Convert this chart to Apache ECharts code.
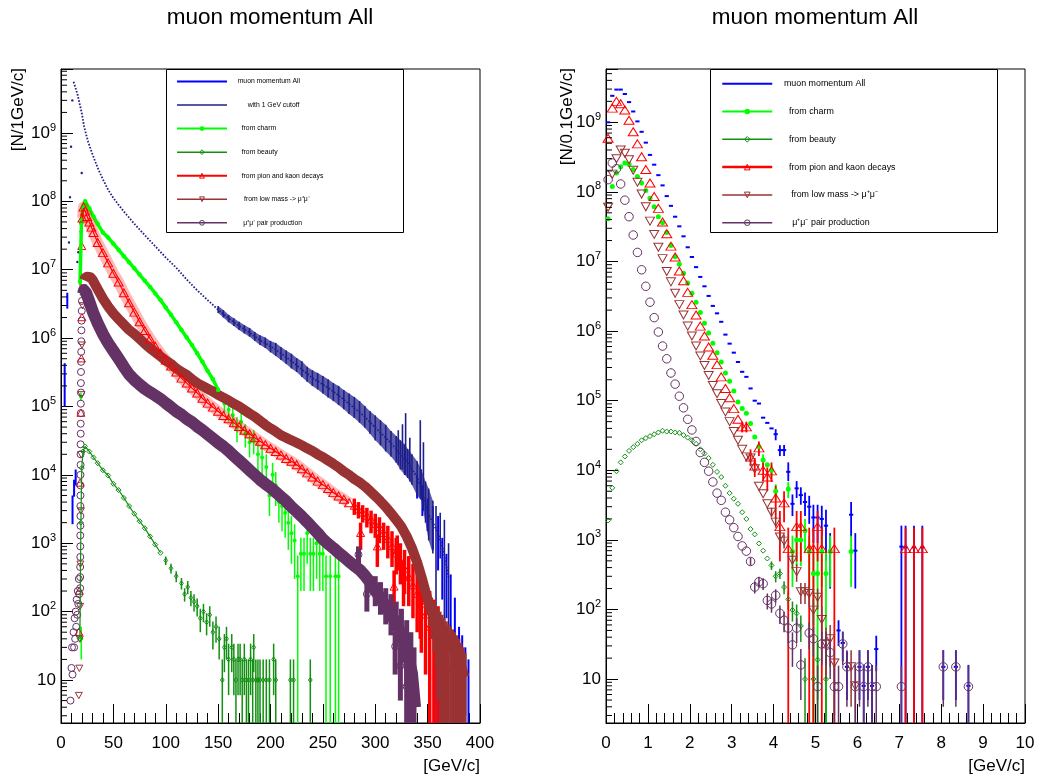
<!DOCTYPE html>
<html><head><meta charset="utf-8">
<script src="https://cdn.jsdelivr.net/npm/echarts@6/dist/echarts.min.js"></script>
<style>html,body{margin:0;padding:0;background:#fff}#c{width:1038px;height:783px}</style>
</head><body><div id="c"></div>
<script>
// ---------------- LEFT PANEL DATA (p in GeV/c, N per 1 GeV/c) ----------------
const allLowL = [[3.5,2.9e5,1.0e5,4.3e5],[6,3.5e6,2.7e6,4.6e6],[11,3.5e3,1.9e3,5.0e3],[12.5,6.5e3,4.8e3,8.5e3],[14,9.0e3,7.0e3,1.2e4]];
const allTailL = [[340,7e3,4.5e3,1.0e4],[345,4.5e3,2.5e3,7e3],[350,3e3,1.5e3,4.5e3],[355,2e3,800,3.5e3],[360,1.2e3,400,2.5e3],[364,600,150,1.2e3],[368,300,80,700],[372,150,40,350],[376,70,20,160],[380,30,8,60],[383,20,5,45],[386,12,3,30],[389,8,2,20]];
const cutL = [[12,5.6e9],[14,4.5e9],[16,3.55e9],[18,2.6e9],[20,1.9e9],[22,1.26e9],[24,9.5e8],[26,7.4e8],[28,6.0e8],[30,4.9e8],[35,3.1e8],[40,2.1e8],[45,1.48e8],[50,1.12e8],[55,8.9e7],[60,7.1e7],[70,4.7e7],[80,3.2e7],[90,2.2e7],[100,1.51e7],[110,1.07e7],[120,7.2e6],[130,5.0e6],[140,3.6e6],[150,2.6e6],[160,1.95e6],[170,1.51e6],[180,1.2e6],[190,9.3e5],[200,7.6e5],[210,6.0e5],[220,4.6e5],[230,3.5e5],[240,2.6e5],[250,2.1e5],[260,1.66e5],[270,1.26e5],[280,9.5e4],[290,7.1e4],[300,4.9e4],[310,3.5e4],[320,2.4e4],[330,1.58e4],[340,9.3e3],[345,5.6e3],[350,2.8e3],[355,2.0e3],[360,1.4e3],[365,790],[370,320]];
const cutStrayL = [[7.6,2.5e7],[8.6,1.15e8],[9.6,6.3e8],[10.8,3.0e9],[15.6,1.3e7],[16.5,1.8e7],[18.2,4.8e7],[18.8,3.6e7],[19.8,2.6e8]];
const cutErrL = [[150,2.34e6,2.95e6],[155,2.0e6,2.57e6],[160,1.7e6,2.19e6],[165,1.51e6,1.95e6],[170,1.32e6,1.74e6],[175,1.17e6,1.55e6],[180,1.05e6,1.41e6],[185,9.1e5,1.23e6],[190,7.9e5,1.1e6],[195,7.2e5,1.02e6],[200,6.2e5,9.1e5],[205,5.5e5,8.5e5],[210,4.8e5,7.4e5],[215,4.2e5,6.6e5],[220,3.6e5,5.9e5],[225,3.2e5,5.1e5],[230,2.7e5,4.6e5],[235,2.3e5,3.8e5],[240,2.0e5,3.4e5],[245,1.78e5,3.1e5],[250,1.55e5,2.8e5],[255,1.35e5,2.5e5],[260,1.2e5,2.2e5],[265,1.05e5,2.0e5],[270,9.1e4,1.74e5],[275,7.8e4,1.55e5],[280,6.8e4,1.38e5],[285,5.8e4,1.2e5],[290,4.9e4,1.02e5],[295,4.0e4,8.5e4],[300,3.2e4,7.4e4],[305,2.7e4,6.3e4],[310,2.2e4,5.4e4],[315,1.86e4,4.4e4],[320,1.51e4,3.7e4],[324,1.2e4,3.2e4],[328,1.0e4,2.8e4],[331,9.0e3,2.4e4],[335,7.2e3,2.0e4],[340,5.0e3,1.58e4],[344,4.3e3,1.2e4],[348,2.0e3,8.0e3],[351,1.1e3,6.3e3],[355,710,4.2e3],[358,0,3.5e3],[362,600,2.8e3],[366,0,2.2e3],[370,63,1.0e3]];
const cutSpikeL = [[322,1.4e4,4.5e4],[326,1.2e4,5.5e4],[329,1.0e4,8.0e4],[333,8e3,3.5e4],[343,4.5e3,6.3e4],[346,3e3,3.0e4]];
const charmL = [[18.2,6.6e6],[19.5,4.8e7],[21,8.5e7],[23,1.0e8],[27,7.9e7],[31,6.0e7],[35,4.7e7],[40,3.5e7],[45,2.95e7],[50,2.4e7],[55,1.95e7],[60,1.58e7],[65,1.29e7],[70,1.05e7],[75,8.5e6],[80,6.9e6],[85,5.6e6],[90,4.5e6],[95,3.6e6],[100,2.8e6],[105,2.2e6],[110,1.7e6],[115,1.32e6],[120,1.02e6],[125,7.9e5],[130,6.0e5],[135,4.5e5],[140,3.3e5],[145,2.5e5],[150,1.74e5]];
const charmTailL = [[19,1.4e5,1.2e5,1.6e5],[19.3,40,20,60],[156,1.1e5,8e4,1.4e5],[160,9e4,6e4,1.2e5],[164,7.5e4,5e4,1.0e5],[168,5e4,3e4,7e4],[172,6e4,4e4,8e4],[176,4e4,2.5e4,5.5e4],[180,3e4,1.8e4,4.2e4],[184,3.2e4,2e4,4.5e4],[188,2e4,1.1e4,3e4],[192,1.8e4,1e4,2.7e4],[196,1.3e4,7e3,2e4],[199,5e3,2.5e3,8e3],[202,1e4,5e3,1.5e4],[205,7e3,3.5e3,1.1e4],[208,4e3,2e3,6e3],[211,3.5e3,1.5e3,5.5e3],[214,2.8e3,1.2e3,4.5e3],[217,2e3,800,3.3e3],[220,1.4e3,500,2.5e3],[223,1.1e3,300,1.9e3],[226,330,0,660],[229,700,200,1.2e3],[232,700,200,1.2e3],[235,1.4e3,500,2.3e3],[238,700,200,1.2e3],[241,700,200,1.2e3],[244,1.0e3,300,1.7e3],[247,700,200,1.2e3],[250,700,200,1.2e3],[253,330,0,660],[257,330,0,660],[262,330,0,660],[265,330,0,660]];
const beautyL = [[18,40],[19,2.0e3],[19.8,1.26e4],[21,2.2e4],[23,2.6e4],[27,2.2e4],[31,1.8e4],[35,1.48e4],[40,1.17e4],[45,9.8e3],[50,7.4e3],[55,6.0e3],[60,4.6e3],[65,3.5e3],[70,2.7e3],[75,2.1e3],[80,1.66e3],[85,1.26e3],[90,955],[95,725]];
const beautyTailL = [[100,560,480,640],[105,430,360,500],[110,330,270,390],[115,260,210,310],[118,180,140,220],[121,230,180,280],[124,160,120,200],[127,140,100,180],[130,120,85,155],[133,80,50,110],[136,100,70,130],[139,70,45,95],[142,90,60,120],[145,50,28,72],[148,60,35,85],[151,40,20,60],[154,10,0,20],[156,30,13,47],[158,40,20,60],[160,20,6,34],[163,30,13,47],[165,20,6,34],[167,10,0,20],[169,20,6,34],[171,20,6,34],[173,10,0,20],[175,20,6,34],[177,10,0,20],[179,10,0,20],[181,20,6,34],[183,10,0,20],[184,30,13,47],[186,10,0,20],[188,10,0,20],[190,10,0,20],[193,10,0,20],[196,10,0,20],[199,10,0,20],[203,20,6,34],[205,10,0,20],[219,10,0,20],[222,10,0,20],[238,10,0,20]];
const pionL = [[20.5,5.7e7],[21.5,8.3e7],[23,7.2e7],[25,6.0e7],[27,5.0e7],[29,4.2e7],[31,3.5e7],[35,2.5e7],[40,1.78e7],[45,1.26e7],[50,8.9e6],[55,6.6e6],[60,4.6e6],[65,3.3e6],[70,2.4e6],[75,1.74e6],[80,1.29e6],[85,9.8e5],[90,7.6e5],[95,6.0e5],[100,4.8e5],[105,3.9e5],[110,3.2e5],[115,2.6e5],[120,2.2e5],[125,1.86e5],[130,1.58e5],[135,1.32e5],[140,1.12e5],[145,9.8e4],[150,8.5e4],[155,7.4e4],[160,6.6e4],[165,5.8e4],[170,5.1e4],[175,4.5e4],[180,4.0e4],[185,3.5e4],[190,3.1e4],[195,2.75e4],[200,2.45e4],[205,2.2e4],[210,1.95e4],[215,1.74e4],[220,1.58e4],[225,1.41e4],[230,1.23e4],[235,1.07e4],[240,9.3e3],[245,8.1e3],[250,7.2e3],[255,6.3e3],[260,5.5e3],[265,4.9e3],[270,4.4e3],[275,3.9e3]];
const pionEdgeL = [[17,50],[17.5,200],[18.2,7.6e3],[19,8e4],[19.5,5e5],[19.8,2.2e7],[20,2e6]];
const pionTailL = [[280,3.5e3,2.6e3,4.5e3],[284,3.1e3,2.3e3,4.0e3],[286,1.4e3,800,2.0e3],[288,2.8e3,2.0e3,3.6e3],[292,2.5e3,1.7e3,3.3e3],[296,2.2e3,1.4e3,3.0e3],[300,1.9e3,1.2e3,2.7e3],[302,890,450,1.35e3],[304,1.7e3,1.0e3,2.4e3],[308,1.4e3,800,2.0e3],[312,1.15e3,600,1.8e3],[316,900,450,1.5e3],[318,230,60,400],[320,700,350,1.2e3],[321,800,400,1.3e3],[324,550,250,1.0e3],[327,320,120,550],[328,420,180,800],[332,320,120,650],[336,240,80,500],[340,180,50,400],[343,165,40,350],[344,130,25,300],[348,90,12,250],[352,60,0,200],[356,45,0,150],[360,32,0,120],[364,22,0,80],[368,15,0,60]];
const lowL = [[22,7.0e6],[23,7.6e6],[25,7.9e6],[28,7.8e6],[30,7.2e6],[35,5.2e6],[40,3.8e6],[45,2.9e6],[50,2.3e6],[55,1.9e6],[60,1.58e6],[65,1.32e6],[70,1.15e6],[75,9.8e5],[80,8.3e5],[85,7.1e5],[90,6.2e5],[95,5.4e5],[100,4.7e5],[105,4.2e5],[110,3.6e5],[115,3.2e5],[120,2.9e5],[125,2.5e5],[130,2.2e5],[135,2.0e5],[140,1.82e5],[145,1.66e5],[150,1.48e5],[155,1.35e5],[160,1.23e5],[165,1.1e5],[170,1.0e5],[175,8.9e4],[180,7.9e4],[185,7.1e4],[190,6.2e4],[195,5.4e4],[200,4.8e4],[205,4.3e4],[210,3.8e4],[215,3.5e4],[220,3.2e4],[225,2.95e4],[230,2.7e4],[235,2.45e4],[240,2.24e4],[245,2.0e4],[250,1.82e4],[255,1.62e4],[260,1.45e4],[265,1.29e4],[270,1.12e4],[275,1.0e4],[280,8.7e3],[285,7.8e3],[290,6.8e3],[295,5.8e3],[300,4.9e3],[305,4.1e3],[310,3.4e3],[315,2.75e3],[320,2.2e3],[325,1.74e3],[330,1.26e3],[335,850],[340,525],[345,290],[350,150],[355,91],[360,63],[365,48],[370,37],[375,29],[380,21],[385,11]];
const lowEdgeL = [[17,6],[17.5,15],[18,40],[18.2,120],[18.5,500],[19,3e3],[19.3,2e4],[19.6,1.5e5],[20,8e5],[20.5,3e6],[21,5.5e6]];
const lowTailL = [[340,525,380,700],[343,400,260,560],[345,290,200,420],[348,200,120,300],[350,150,90,230],[352,120,60,190],[354,100,40,160],[356,85,25,140],[358,70,15,120],[360,62,5,110],[362,55,0,100],[364,50,0,90],[366,45,0,80],[368,41,0,72],[370,37,0,65],[372,33,0,60],[374,30,0,55],[376,27,0,50],[378,24,0,45],[380,21,0,40],[382,18,0,35],[384,14,0,30],[386,11,0,25]];
const pairL = [[21,4.4e6],[22,5.0e6],[24,4.6e6],[26,3.8e6],[28,3.1e6],[31,2.3e6],[35,1.66e6],[40,1.15e6],[45,8.5e5],[50,6.5e5],[55,5.0e5],[60,3.8e5],[65,2.95e5],[70,2.45e5],[75,2.1e5],[80,1.82e5],[85,1.62e5],[90,1.45e5],[95,1.29e5],[100,1.12e5],[105,9.8e4],[110,8.5e4],[115,7.6e4],[120,6.6e4],[125,5.9e4],[130,5.1e4],[135,4.5e4],[140,3.9e4],[145,3.4e4],[150,2.95e4],[155,2.6e4],[160,2.24e4],[165,1.9e4],[170,1.62e4],[175,1.38e4],[180,1.17e4],[185,1.0e4],[190,8.5e3],[195,7.4e3],[200,6.5e3],[205,5.6e3],[210,4.8e3],[215,4.1e3],[220,3.4e3],[225,2.9e3],[230,2.45e3],[235,2.05e3],[240,1.7e3],[245,1.41e3],[250,1.15e3],[255,980],[260,850],[265,725],[270,630],[275,540],[280,470],[285,410],[290,340],[295,270],[300,205],[305,158],[310,120],[315,91],[320,68],[325,46],[330,28],[335,12.6],[338,4]];
const pairEdgeL = [[9,5],[10,15],[10.5,30],[11,12],[12,50],[12.5,30],[13,80],[13.5,40],[14,100],[14.5,60],[15,150],[15.5,90],[16,200],[16.5,130],[17,300],[17.3,180],[18.3,220],[18.3,320],[18.3,450],[18.4,630],[18.4,900],[18.4,1300],[18.5,1800],[18.5,2500],[18.5,3500],[18.6,5000],[18.6,7000],[18.6,1e4],[18.7,1.4e4],[18.7,2e4],[18.7,2.8e4],[18.8,4e4],[18.8,5.6e4],[18.9,8e4],[18.9,1.1e5],[19,1.6e5],[19,2.2e5],[19.1,3.2e5],[19.2,4.5e5],[19.3,6.3e5],[19.4,9e5],[19.5,1.3e6],[19.6,1.8e6],[19.8,2.5e6],[20,3.5e6]];
const pairTailL = [[284,680,450,900],[292,180,100,260],[300,205,120,330],[305,158,90,270],[310,120,65,220],[315,91,45,180],[319,31,12,50],[320,68,30,140],[324,16,5,30],[325,46,18,110],[330,8,0,20],[330,28,8,75],[334,15,0,50],[337,5,0,30]];

// ---------------- RIGHT PANEL DATA (p in GeV/c, N per 0.1 GeV/c) ----------------
const allR = [[0.05,1.0e9],[0.15,2.4e9],[0.25,2.95e9],[0.35,2.95e9],[0.45,2.55e9],[0.55,1.95e9],[0.65,1.43e9],[0.75,1.03e9],[0.85,7.3e8],[0.95,5.1e8],[1.05,3.4e8],[1.15,2.46e8],[1.25,1.74e8],[1.35,1.24e8],[1.45,8.7e7],[1.55,6.3e7],[1.65,4.4e7],[1.75,3.2e7],[1.85,2.3e7],[1.95,1.6e7],[2.05,1.16e7],[2.15,8.3e6],[2.25,6.0e6],[2.35,4.4e6],[2.45,3.2e6],[2.55,2.3e6],[2.65,1.8e6],[2.75,1.36e6],[2.85,8.9e5],[2.95,6.6e5],[3.05,4.9e5],[3.15,3.6e5],[3.25,2.6e5],[3.35,2.2e5],[3.45,1.5e5],[3.55,1.0e5],[3.65,9.1e4],[3.75,5.7e4],[3.85,4.8e4],[3.95,4.0e4],[4.05,3.3e4],[4.15,1.95e4],[4.25,1.95e4],[4.35,9.5e3],[4.45,3.3e3],[4.55,5.5e3],[4.65,4.4e3],[4.75,3.5e3],[4.85,3.0e3],[4.95,2.1e3],[5.05,2.1e3],[5.15,2.0e3],[5.25,1.6e3],[5.35,700],[5.55,50],[5.65,33],[5.75,15],[5.85,2.3e3],[5.95,700],[6.05,15],[6.15,8],[6.25,15],[6.35,8],[6.45,27],[7.05,800],[7.15,780],[7.35,780],[7.55,780],[8.05,15],[8.35,15],[8.65,8]];
const allErrR = [[4.05,2.7e4,3.9e4],[4.15,1.6e4,2.3e4],[4.25,1.6e4,2.3e4],[4.35,7e3,1.3e4],[4.45,2.2e3,4.5e3],[4.55,4.0e3,7.0e3],[4.65,3.2e3,5.7e3],[4.75,2.2e3,4.8e3],[4.85,1.7e3,4.3e3],[4.95,900,3.2e3],[5.05,900,3.2e3],[5.15,800,3.1e3],[5.25,500,2.7e3],[5.35,200,1.25e3],[5.55,30,70],[5.65,18,48],[5.75,5,25],[5.85,1.1e3,3.5e3],[5.95,200,1.25e3],[6.05,5,26],[6.15,0,16],[6.25,5,26],[6.35,0,16],[6.45,13,42],[7.05,0,1.6e3],[7.15,0,1.6e3],[7.35,0,1.6e3],[7.55,0,1.6e3],[8.05,5,26],[8.35,5,26],[8.65,0,16]];
const charmR = [[0.05,4.1e7],[0.15,1.2e8],[0.25,1.87e8],[0.35,2.3e8],[0.45,2.6e8],[0.55,2.5e8],[0.65,2.1e8],[0.75,1.67e8],[0.85,1.34e8],[0.95,1.05e8],[1.05,8.1e7],[1.15,6.1e7],[1.25,4.4e7],[1.35,3.6e7],[1.45,2.6e7],[1.55,1.7e7],[1.65,1.17e7],[1.75,9.1e6],[1.85,6.8e6],[1.95,4.9e6],[2.05,3.5e6],[2.15,2.6e6],[2.25,1.85e6],[2.35,1.3e6],[2.45,9.4e5],[2.55,6.7e5],[2.65,4.9e5],[2.75,3.6e5],[2.85,2.5e5],[2.95,1.9e5],[3.05,1.38e5],[3.15,9.6e4],[3.25,7.7e4],[3.35,6.6e4],[3.45,4.7e4],[3.55,3.0e4],[3.65,2.2e4],[3.75,1.4e4],[3.85,1.2e4],[3.95,1.0e4],[4.05,5.0e3],[4.35,5.4e3],[4.45,680],[4.55,1.0e3],[4.65,1.0e3],[4.75,1.35e3],[4.85,680],[4.95,330],[5.05,330],[5.15,680],[5.25,330],[5.35,680],[5.85,680]];
const charmErrR = [[3.75,1.1e4,1.7e4],[3.95,8e3,1.2e4],[4.05,3.7e3,6.3e3],[4.35,4.0e3,6.8e3],[4.45,210,1.15e3],[4.55,420,1.6e3],[4.65,420,1.6e3],[4.75,680,2.0e3],[4.85,210,1.15e3],[4.95,0,660],[5.05,0,660],[5.15,210,1.15e3],[5.25,0,660],[5.35,210,1.15e3],[5.85,210,1.15e3]];
const beautyR = [[0.05,1.9e3],[0.15,5.6e3],[0.25,9.7e3],[0.35,1.3e4],[0.45,1.58e4],[0.55,1.9e4],[0.65,2.15e4],[0.75,2.4e4],[0.85,2.7e4],[0.95,2.9e4],[1.05,3.1e4],[1.15,3.3e4],[1.25,3.5e4],[1.35,3.7e4],[1.45,3.6e4],[1.55,3.6e4],[1.65,3.5e4],[1.75,3.45e4],[1.85,3.2e4],[1.95,2.95e4],[2.05,2.7e4],[2.15,2.4e4],[2.25,2.0e4],[2.35,1.74e4],[2.45,1.5e4],[2.55,1.2e4],[2.65,9.5e3],[2.75,8.0e3],[2.85,6.0e3],[2.95,4.7e3],[3.05,3.9e3],[3.15,3.3e3],[3.25,2.5e3],[3.35,2.0e3],[3.45,1.43e3],[3.55,1.2e3],[3.65,890],[3.75,700],[3.85,540],[3.95,430],[4.05,300],[4.15,330],[4.25,210],[4.35,140],[4.45,98],[4.55,88],[4.65,58],[4.75,10],[4.95,10],[5.05,19],[5.25,10]];
const beautyErrR = [[3.95,370,490],[4.05,245,355],[4.15,275,385],[4.25,165,255],[4.35,100,180],[4.45,67,130],[4.55,58,118],[4.65,34,82],[4.75,0,20],[4.95,0,20],[5.05,5,33],[5.25,0,20]];
const pionR = [[0.05,5.9e8],[0.15,1.6e9],[0.25,2.0e9],[0.35,1.85e9],[0.45,1.5e9],[0.55,1.07e9],[0.65,7.3e8],[0.75,4.9e8],[0.85,3.2e8],[0.95,2.1e8],[1.05,1.34e8],[1.15,8.6e7],[1.25,5.8e7],[1.35,3.7e7],[1.45,2.5e7],[1.55,1.66e7],[1.65,1.16e7],[1.75,7.3e6],[1.85,5.3e6],[1.95,3.6e6],[2.05,2.4e6],[2.15,1.7e6],[2.25,1.18e6],[2.35,8.5e5],[2.45,5.9e5],[2.55,4.5e5],[2.65,3.3e5],[2.75,2.2e5],[2.85,1.5e5],[2.95,1.1e5],[3.05,7.7e4],[3.15,5.4e4],[3.25,4.2e4],[3.35,4.2e4],[3.45,1.55e4],[3.55,1.15e4],[3.65,2.1e4],[3.75,1.0e4],[3.85,8.0e3],[3.95,9.8e3],[4.05,4.0e3],[4.15,1.55e3],[4.25,3.4e3],[4.35,750],[4.55,1.55e3],[4.65,1.55e3],[4.85,750],[4.95,750],[5.05,1.55e3],[5.15,750],[5.45,750],[7.15,750],[7.35,750],[7.55,750]];
const pionErrR = [[3.25,3.5e4,5e4],[3.35,3.5e4,5e4],[3.45,1.15e4,2.0e4],[3.55,8e3,1.5e4],[3.65,1.6e4,2.6e4],[3.75,7e3,1.3e4],[3.85,5e3,1.1e4],[3.95,6.8e3,1.3e4],[4.05,2.0e3,6.0e3],[4.15,490,2.6e3],[4.25,1.8e3,5.0e3],[4.35,0,1.5e3],[4.55,490,2.6e3],[4.65,490,2.6e3],[4.85,0,1.5e3],[4.95,0,1.5e3],[5.05,490,2.6e3],[5.15,0,1.5e3],[5.45,0,1.5e3],[7.15,0,1.5e3],[7.35,0,1.5e3],[7.55,0,1.5e3]];
const lowR = [[0.05,6.0e7],[0.15,1.8e8],[0.25,3.0e8],[0.35,4.0e8],[0.45,3.6e8],[0.55,2.9e8],[0.65,2.05e8],[0.75,1.38e8],[0.85,9.3e7],[0.95,6.1e7],[1.05,3.8e7],[1.15,2.45e7],[1.25,1.6e7],[1.35,1.1e7],[1.45,7.2e6],[1.55,5.1e6],[1.65,3.5e6],[1.75,2.4e6],[1.85,1.7e6],[1.95,1.18e6],[2.05,8.5e5],[2.15,6.1e5],[2.25,4.4e5],[2.35,3.2e5],[2.45,2.3e5],[2.55,1.65e5],[2.65,1.26e5],[2.75,9.1e4],[2.85,6.9e4],[2.95,5.0e4],[3.05,3.6e4],[3.15,2.7e4],[3.25,2.0e4],[3.35,1.56e4],[3.45,1.5e4],[3.55,1.05e4],[3.65,5.9e3],[3.75,4.6e3],[3.85,3.3e3],[3.95,2.5e3],[4.05,1.8e3],[4.15,1.1e3],[4.25,960],[4.45,510],[4.55,350],[4.65,180],[4.75,180],[4.85,170],[4.95,98],[5.05,150],[5.15,72],[5.25,32],[5.35,38],[5.45,17],[5.85,15],[5.95,8]];
const lowErrR = [[3.95,2.1e3,2.9e3],[4.05,1.5e3,2.1e3],[4.15,850,1.35e3],[4.25,750,1.2e3],[4.45,380,640],[4.55,250,450],[4.65,120,240],[4.75,120,240],[4.85,115,225],[4.95,60,140],[5.05,100,200],[5.15,35,110],[5.25,10,55],[5.35,15,60],[5.45,3,30],[5.85,4,26],[5.95,0,16]];
const pairR = [[0.05,1.5e8],[0.15,2.6e8],[0.25,2.15e8],[0.35,1.3e8],[0.45,7.6e7],[0.55,4.4e7],[0.65,2.4e7],[0.75,1.35e7],[0.85,7.6e6],[0.95,4.4e6],[1.05,2.6e6],[1.15,1.56e6],[1.25,9.7e5],[1.35,6.1e5],[1.45,4.0e5],[1.55,2.5e5],[1.65,1.73e5],[1.75,1.16e5],[1.85,7.9e4],[1.95,5.4e4],[2.05,3.8e4],[2.15,2.6e4],[2.25,1.8e4],[2.35,1.3e4],[2.45,9.7e3],[2.55,6.8e3],[2.65,4.7e3],[2.75,3.7e3],[2.85,2.5e3],[2.95,1.94e3],[3.05,1.5e3],[3.15,1.12e3],[3.25,820],[3.35,690],[3.45,490],[3.55,210],[3.65,250],[3.75,235],[3.85,135],[3.95,120],[4.05,160],[4.15,88],[4.25,70],[4.35,54],[4.45,31],[4.55,54],[4.65,16],[4.85,46],[4.95,38],[5.05,7.8],[5.15,32],[5.25,32],[5.35,24],[5.45,7.8],[5.55,7.8],[5.65,32],[5.75,15],[5.95,7.8],[6.05,15],[6.15,7.8],[6.25,15],[6.35,7.8],[6.45,7.8],[7.05,7.8],[8.05,15],[8.35,15],[8.65,7.8]];
const pairErrR = [[3.45,430,550],[3.55,170,250],[3.65,205,295],[3.75,190,280],[3.85,100,170],[3.95,90,150],[4.05,125,195],[4.15,62,114],[4.25,47,93],[4.35,33,75],[4.45,15,47],[4.55,33,75],[4.65,5,27],[4.85,27,65],[4.95,21,55],[5.05,0,15.6],[5.15,16,48],[5.25,16,48],[5.35,10,38],[5.45,0,15.6],[5.55,0,15.6],[5.65,16,48],[5.75,4,26],[5.95,0,15.6],[6.05,4,26],[6.15,0,15.6],[6.25,4,26],[6.35,0,15.6],[6.45,0,15.6],[7.05,0,15.6],[8.05,4,26],[8.35,4,26],[8.65,0,15.6]];

// ---------------- AXES / TEXT ----------------
const xRangeL = [0, 400], xStepL = 50;
const xRangeR = [0, 10], xStepR = 1;
const yRangeL = [2.35, 8.63e9];
const yRangeR = [2.34, 5.83e9];
const minorMultipliers = [2, 3, 4, 5, 6, 7, 8, 9];
const decades = [0, 1, 2, 3, 4, 5, 6, 7, 8, 9];
const titleText = 'muon momentum All';
const yTitleL = '[N/1GeV/c]', yTitleR = '[N/0.1GeV/c]', xTitle = '[GeV/c]';
const NAMES = {all: 'muon momentum All', cut: 'with 1 GeV cutoff', charm: 'from charm', beauty: 'from beauty', pion: 'from pion and kaon decays', low: 'from low mass -> μ⁺μ⁻', pair: 'μ⁺μ⁻ pair production'};

const F = '"Liberation Sans", Arial, Helvetica, sans-serif';
const COL = {all: '#0000ff', cut: '#1f1f8c', charm: '#00ff00', beauty: '#119011', pion: '#ff0000', low: '#993333', pair: '#653265'};

function mk(kind, x, y, s, color, lw) {
  const h = s / 2;
  const open = {fill: 'none', stroke: color, lineWidth: lw};
  if (kind === 'dot') return {type: 'circle', shape: {cx: x, cy: y, r: h}, style: {fill: color, stroke: 'none'}};
  if (kind === 'ring') return {type: 'circle', shape: {cx: x, cy: y, r: h}, style: open};
  if (kind === 'up') return {type: 'polygon', shape: {points: [[x, y - h], [x - h, y + h * 0.8], [x + h, y + h * 0.8]]}, style: open};
  if (kind === 'down') return {type: 'polygon', shape: {points: [[x, y + h], [x - h, y - h * 0.8], [x + h, y - h * 0.8]]}, style: open};
  return {type: 'polygon', shape: {points: [[x, y - h], [x + h * 0.75, y], [x, y + h], [x - h * 0.75, y]]}, style: open};
}
function R(o) {
  return function (params, api) {
    const x = api.value(0);
    const kids = [];
    if (o.lo != null) {
      const lo = Math.min(Math.max(api.value(o.lo), o.yr[0]), o.yr[1]);
      const hi = Math.min(Math.max(api.value(o.hi), o.yr[0]), o.yr[1]);
      const a = api.coord([x, lo]), b = api.coord([x, hi]);
      kids.push({type: 'line', shape: {x1: a[0], y1: a[1], x2: b[0], y2: b[1]}, style: {stroke: o.color, lineWidth: o.bw || 1.2}});
    }
    if (o.half) {
      const v = api.value(1);
      const a = api.coord([x - o.half, v]), b = api.coord([x + o.half, v]);
      kids.push({type: 'line', shape: {x1: a[0], y1: a[1], x2: b[0], y2: b[1]}, style: {stroke: o.color, lineWidth: o.hw || 1.5}});
    }
    if (o.marker) {
      const p = api.coord([x, api.value(1)]);
      kids.push(mk(o.marker, p[0], p[1], o.size, o.color, o.lw || 1));
    }
    return {type: 'group', children: kids};
  };
}
// filled band between consecutive [x, lo, hi] rows (spread of the noisy bins)
function bandR(arr, color, op, yrng, maxX) {
  return function (params, api) {
    const i = params.dataIndex;
    if (i >= arr.length - 1) return null;
    const a = arr[i], b = arr[i + 1];
    if (b[0] > maxX || a[1] <= 0 || b[1] <= 0) return null;
    const cl = v => Math.min(Math.max(v, yrng[0]), yrng[1]);
    const pts = [api.coord([a[0], cl(a[1])]), api.coord([a[0], cl(a[2])]), api.coord([b[0], cl(b[2])]), api.coord([b[0], cl(b[1])])];
    return {type: 'polygon', shape: {points: pts}, style: {fill: color, opacity: op, stroke: 'none'}};
  };
}
let cid = 0;
function cust(data, gi, o, yDim) {
  return {type: 'custom', name: '_c' + (cid++), data: data, xAxisIndex: gi, yAxisIndex: gi,
    encode: {x: 0, y: yDim == null ? 1 : yDim}, renderItem: R(o), animation: false, silent: true, clip: true, z: 2};
}
function line(key, data, gi, o) {
  return Object.assign({type: 'line', name: NAMES[key], data: data, xAxisIndex: gi, yAxisIndex: gi,
    animation: false, silent: true, clip: true, z: 2, symbol: 'none', showSymbol: true,
    lineStyle: {color: COL[key], width: 1}, itemStyle: {color: COL[key]}, emphasis: {disabled: true}}, o);
}
const openItem = (c) => ({color: 'rgba(0,0,0,0)', borderColor: c, borderWidth: 1});

const series = [];
const yl = yRangeL, yr = yRangeR;
// LEFT
series.push(line('all', allLowL.concat(allTailL).map(r => [r[0], r[1]]), 0, {lineStyle: {opacity: 0}}));
series.push(cust(allLowL.concat(allTailL), 0, {color: COL.all, lo: 2, hi: 3, yr: yl, bw: 2}));
series.push(line('cut', cutL, 0, {lineStyle: {color: COL.cut, width: 1.8, type: [1.6, 1.6]}}));
series.push(cust(cutStrayL, 0, {color: COL.cut, marker: 'dot', size: 2.4}));
series.push({type: 'custom', name: '_cutband', data: cutErrL, xAxisIndex: 0, yAxisIndex: 0, encode: {x: 0, y: 2},
  renderItem: bandR(cutErrL, COL.cut, 0.72, yl, 356), animation: false, silent: true, clip: true, z: 2});
series.push(cust(cutErrL, 0, {color: COL.cut, lo: 1, hi: 2, yr: yl, bw: 1.6}, 2));
series.push(cust(cutSpikeL, 0, {color: COL.cut, lo: 1, hi: 2, yr: yl, bw: 1.6}, 2));
series.push(line('charm', charmL, 0, {symbol: 'circle', symbolSize: 4.5, lineStyle: {color: COL.charm, width: 3.5}}));
series.push(cust(charmTailL, 0, {color: COL.charm, lo: 2, hi: 3, yr: yl, bw: 1.5, marker: 'dot', size: 4}));
series.push(line('beauty', beautyL, 0, {symbol: 'diamond', symbolSize: 5, lineStyle: {color: COL.beauty, width: 1.2}, itemStyle: openItem(COL.beauty)}));
series.push(cust(beautyTailL, 0, {color: COL.beauty, lo: 2, hi: 3, yr: yl, bw: 1.5, marker: 'diamond', size: 5}));
series.push({type: 'line', name: '_pionband', data: pionL, xAxisIndex: 0, yAxisIndex: 0, animation: false, silent: true, z: 2,
  symbol: 'none', lineStyle: {color: 'rgba(255,0,0,0.28)', width: 11, join: 'round'}});
series.push(line('pion', pionL, 0, {symbol: 'triangle', symbolSize: [9, 8], lineStyle: {color: COL.pion, width: 1.2}, itemStyle: openItem(COL.pion)}));
series.push(cust(pionEdgeL, 0, {color: COL.pion, marker: 'up', size: 8}));
series.push(cust(pionTailL, 0, {color: COL.pion, lo: 2, hi: 3, yr: yl, bw: 3.5, marker: 'up', size: 8}));
series.push(line('low', lowL, 0, {symbol: 'triangle', symbolRotate: 180, showSymbol: false, lineStyle: {color: COL.low, width: 10, join: 'round'}, itemStyle: openItem(COL.low)}));
series.push(cust(lowEdgeL, 0, {color: COL.low, marker: 'down', size: 7}));
series.push(cust(lowTailL, 0, {color: COL.low, lo: 2, hi: 3, yr: yl, bw: 2.6}));
series.push(line('pair', pairL, 0, {symbol: 'circle', showSymbol: false, lineStyle: {color: COL.pair, width: 12, join: 'round'}, itemStyle: openItem(COL.pair)}));
series.push(cust(pairEdgeL, 0, {color: COL.pair, marker: 'ring', size: 7}));
series.push(cust(pairTailL, 0, {color: COL.pair, lo: 2, hi: 3, yr: yl, bw: 5, marker: 'ring', size: 7}));
// RIGHT
series.push(line('all', allR, 1, {lineStyle: {opacity: 0}}));
series.push(cust(allR, 1, {color: COL.all, half: 0.05, hw: 2}));
series.push(cust(allErrR, 1, {color: COL.all, lo: 1, hi: 2, yr: yr, bw: 1.8}, 2));
series.push(line('charm', charmR, 1, {symbol: 'circle', symbolSize: 5, lineStyle: {opacity: 0}}));
series.push(cust(charmErrR, 1, {color: COL.charm, lo: 1, hi: 2, yr: yr, bw: 1.8}, 2));
series.push(line('beauty', beautyR, 1, {symbol: 'diamond', symbolSize: 5, lineStyle: {opacity: 0}, itemStyle: openItem(COL.beauty)}));
series.push(cust(beautyErrR, 1, {color: COL.beauty, lo: 1, hi: 2, yr: yr, bw: 1.5}, 2));
series.push(line('pion', pionR, 1, {symbol: 'triangle', symbolSize: [10, 8], lineStyle: {opacity: 0}, itemStyle: openItem(COL.pion)}));
series.push(cust(pionErrR, 1, {color: COL.pion, lo: 1, hi: 2, yr: yr, bw: 1.8}, 2));
series.push(line('low', lowR, 1, {symbol: 'triangle', symbolRotate: 180, symbolSize: [9, 8], lineStyle: {opacity: 0}, itemStyle: openItem(COL.low)}));
series.push(cust(lowErrR, 1, {color: COL.low, lo: 1, hi: 2, yr: yr, bw: 1.5}, 2));
series.push(line('pair', pairR, 1, {symbol: 'circle', symbolSize: 8.5, lineStyle: {opacity: 0}, itemStyle: openItem(COL.pair)}));
series.push(cust(pairErrR, 1, {color: COL.pair, lo: 1, hi: 2, yr: yr, bw: 1.5}, 2));

// minor log ticks (drawn through the y scale)
function minorData(range) {
  const out = [];
  decades.forEach(k => minorMultipliers.forEach(m => { const v = m * Math.pow(10, k); if (v > range[0] && v < range[1]) out.push([0, v]); }));
  return out;
}
function minorRender(len) {
  return function (params, api) {
    const p = api.coord([api.value(0), api.value(1)]);
    return {type: 'line', shape: {x1: p[0], y1: p[1], x2: p[0] + len, y2: p[1]}, style: {stroke: '#000', lineWidth: 1}};
  };
}
[0, 1].forEach(gi => series.push({type: 'custom', name: '_minor' + gi, data: minorData(gi ? yr : yl), xAxisIndex: gi, yAxisIndex: gi,
  encode: {x: 0, y: 1}, renderItem: minorRender(6), animation: false, silent: true, clip: false, z: 3}));

function yFmt(v) {
  const l = Math.log10(v), e = Math.round(l);
  if (Math.abs(l - e) > 1e-6 || e < 1) return '';
  if (e === 1) return '{b|10}';
  return '{b|10}{s|' + e + '}';
}
function xAx(gi, rng, step) {
  return {type: 'value', gridIndex: gi, min: rng[0], max: rng[1], interval: step,
    axisLine: {show: true, lineStyle: {color: '#000', width: 1}},
    axisTick: {show: true, inside: true, length: 19, lineStyle: {color: '#000', width: 1}},
    minorTick: {show: true, splitNumber: 5, length: 10, lineStyle: {color: '#000', width: 1}},
    splitLine: {show: false}, minorSplitLine: {show: false},
    axisLabel: {color: '#000', fontFamily: F, fontSize: 17, margin: 12}};
}
function yAx(gi, rng) {
  return {type: 'log', logBase: 10, gridIndex: gi, min: rng[0], max: rng[1], splitNumber: 10,
    axisLine: {show: true, lineStyle: {color: '#000', width: 1}},
    axisTick: {show: true, inside: true, length: 12, lineStyle: {color: '#000', width: 1}},
    minorTick: {show: false}, splitLine: {show: false},
    axisLabel: {color: '#000', margin: 5, formatter: yFmt,
      rich: {b: {fontFamily: F, fontSize: 17, lineHeight: 22, color: '#000'},
             s: {fontFamily: F, fontSize: 11, lineHeight: 11, verticalAlign: 'top', color: '#000'}}}};
}

function legData(keys, lw) {
  const st = {
    all: {opacity: 0}, cut: {opacity: 0},
    charm: {color: COL.charm, borderWidth: 0, opacity: 1},
    beauty: {color: 'rgba(0,0,0,0)', borderColor: COL.beauty, borderWidth: 1, opacity: 1},
    pion: {color: 'rgba(0,0,0,0)', borderColor: COL.pion, borderWidth: 1, opacity: 1},
    low: {color: 'rgba(0,0,0,0)', borderColor: COL.low, borderWidth: 1, opacity: 1},
    pair: {color: 'rgba(0,0,0,0)', borderColor: COL.pair, borderWidth: 1, opacity: 1}
  };
  return keys.map(k => ({name: NAMES[k], lineStyle: {color: COL[k], width: lw[k], opacity: 1, type: 'solid'}, itemStyle: st[k]}));
}
function legRich(fs, offs) {
  const r = {};
  Object.keys(offs).forEach(k => { r[k] = {fontFamily: F, fontSize: fs, color: '#000', padding: [0, 0, 0, offs[k]]}; });
  return r;
}
const legKeyL = {}; legKeyL[NAMES.all] = 'a'; legKeyL[NAMES.cut] = 'b'; legKeyL[NAMES.charm] = 'c'; legKeyL[NAMES.beauty] = 'c'; legKeyL[NAMES.pion] = 'c'; legKeyL[NAMES.low] = 'd'; legKeyL[NAMES.pair] = 'e';
const legKeyR = {}; legKeyR[NAMES.all] = 'a'; legKeyR[NAMES.charm] = 'c'; legKeyR[NAMES.beauty] = 'c'; legKeyR[NAMES.pion] = 'c'; legKeyR[NAMES.low] = 'd'; legKeyR[NAMES.pair] = 'e';
const lwL = {all: 2, cut: 1.5, charm: 2, beauty: 1.5, pion: 2, low: 1.5, pair: 1.5};
const lwR = {all: 2, charm: 2, beauty: 1.5, pion: 2.5, low: 1.5, pair: 1.5};

const option = {
  animation: false,
  backgroundColor: '#fff',
  textStyle: {fontFamily: F},
  grid: [
    {left: 61, top: 69, width: 419, height: 654, show: true, borderColor: '#000', borderWidth: 1, backgroundColor: 'rgba(0,0,0,0)', containLabel: false, outerBoundsMode: 'none'},
    {left: 606, top: 69, width: 419, height: 654, show: true, borderColor: '#000', borderWidth: 1, backgroundColor: 'rgba(0,0,0,0)', containLabel: false, outerBoundsMode: 'none'}
  ],
  xAxis: [xAx(0, xRangeL, xStepL), xAx(1, xRangeR, xStepR)],
  yAxis: [yAx(0, yRangeL), yAx(1, yRangeR)],
  legend: [
    {id: 'legL', left: 176, top: 78, orient: 'vertical', padding: 0, itemWidth: 50, itemHeight: 6, itemGap: 16.55, selectedMode: false, z: 10,
      textStyle: {fontFamily: F, fontSize: 6.8, color: '#000', rich: legRich(6.8, {a: 5.7, b: 15.7, c: 9.7, d: 12, e: 11.3})},
      formatter: n => '{' + legKeyL[n] + '|' + n + '}',
      data: legData(['all', 'cut', 'charm', 'beauty', 'pion', 'low', 'pair'], lwL)},
    {id: 'legR', left: 721, top: 79.2, orient: 'vertical', padding: 0, itemWidth: 50, itemHeight: 7, itemGap: 18.8, selectedMode: false, z: 10,
      textStyle: {fontFamily: F, fontSize: 8.9, color: '#000', rich: legRich(8.9, {a: 6.7, c: 11.7, d: 14, e: 15})},
      formatter: n => '{' + legKeyR[n] + '|' + n + '}',
      data: legData(['all', 'charm', 'beauty', 'pion', 'low', 'pair'], lwR)}
  ],
  graphic: [
    {type: 'rect', z: 8, shape: {x: 166.5, y: 69.5, width: 237, height: 163}, style: {fill: '#fff', stroke: '#000', lineWidth: 1}},
    {type: 'rect', z: 8, shape: {x: 710.5, y: 69.5, width: 287, height: 163}, style: {fill: '#fff', stroke: '#000', lineWidth: 1}},
    {type: 'text', z: 9, x: 270, y: 18, style: {text: titleText, font: '22.5px ' + F, fill: '#000', textAlign: 'center', textVerticalAlign: 'middle'}},
    {type: 'text', z: 9, x: 815, y: 18, style: {text: titleText, font: '22.5px ' + F, fill: '#000', textAlign: 'center', textVerticalAlign: 'middle'}},
    {type: 'text', z: 9, x: 18, y: 68, rotation: Math.PI / 2, style: {text: yTitleL, font: '17px ' + F, fill: '#000', textAlign: 'right', textVerticalAlign: 'middle'}},
    {type: 'text', z: 9, x: 567, y: 68, rotation: Math.PI / 2, style: {text: yTitleR, font: '17px ' + F, fill: '#000', textAlign: 'right', textVerticalAlign: 'middle'}},
    {type: 'text', z: 9, x: 480, y: 766, style: {text: xTitle, font: '17px ' + F, fill: '#000', textAlign: 'right', textVerticalAlign: 'middle'}},
    {type: 'text', z: 9, x: 1025, y: 766, style: {text: xTitle, font: '17px ' + F, fill: '#000', textAlign: 'right', textVerticalAlign: 'middle'}}
  ],
  series: series
};
const chart = echarts.init(document.getElementById('c'), null, {renderer: 'canvas'});
chart.setOption(option);
</script></body></html>
